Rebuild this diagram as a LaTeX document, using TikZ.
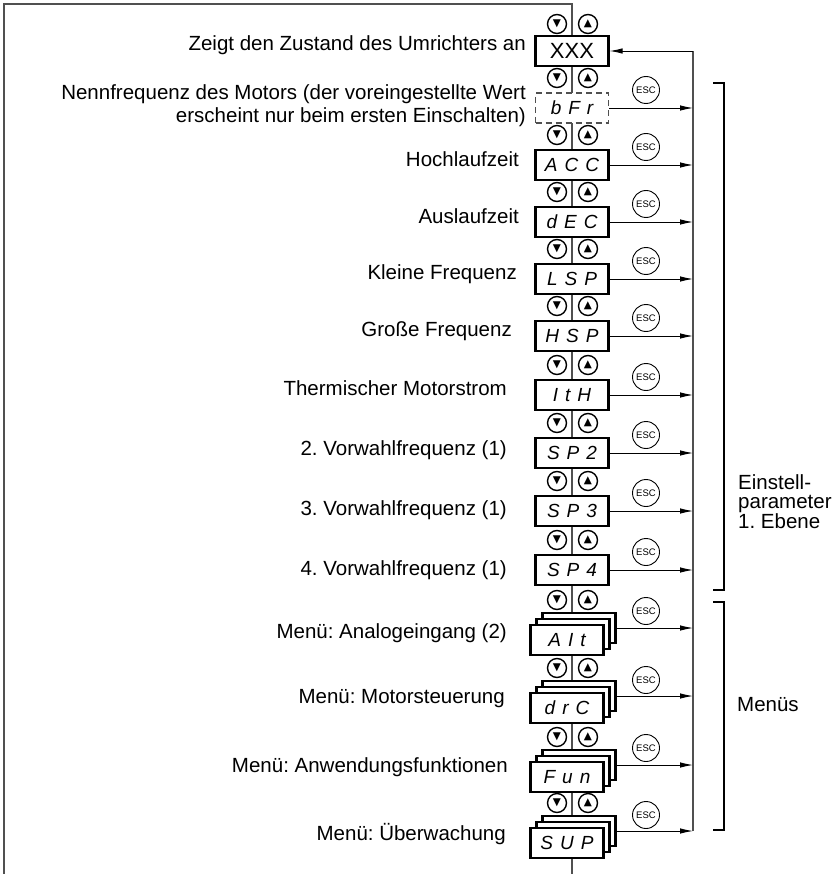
\documentclass[tikz,border=0pt]{standalone}
\usepackage{fontspec}
\setmainfont{Liberation Sans}
\newfontfamily\symfont{DejaVu Sans}
\usetikzlibrary{arrows.meta, shadows, backgrounds}
\definecolor{lineGray}{HTML}{505050}
\newcommand{\dsp}{\hspace{7pt}}
\frenchspacing

\begin{document}
\begin{tikzpicture}[
    x=1pt, y=-1pt,
    >={Latex[length=13pt,width=5.5pt]},
    disp/.style={draw, fill=white, line width=2.2pt, minimum width=73pt,
                 minimum height=30pt, inner sep=0pt,
                 font=\fontsize{19}{19}\selectfont\itshape},
    dispdash/.style={disp, draw=lineGray, line width=1.2pt,
                     dash pattern=on 6pt off 4pt},
    menu/.style={disp,
                 general shadow={shadow xshift=12pt, shadow yshift=12pt,
                                 draw, line width=2.2pt, fill=white},
                 general shadow={shadow xshift=6pt, shadow yshift=6pt,
                                 draw, line width=2.2pt, fill=white}},
    key/.style={circle, draw, line width=1.4pt, minimum size=19pt,
                inner sep=0pt, font=\symfont\fontsize{10.5}{10.5}\selectfont},
    esc/.style={circle, draw, line width=0.9pt, minimum size=27pt,
                inner sep=0pt, font=\fontsize{9.5}{9.5}\selectfont},
    lbl/.style={anchor=east, inner sep=0pt, font=\fontsize{20.5}{23}\selectfont},
    side/.style={anchor=west, align=left, inner sep=0pt,
                 font=\fontsize{20.5}{19}\selectfont},
    link/.style={draw=lineGray, line width=1.3pt},
    flow/.style={->, line width=0.9pt},
  ]
    \useasboundingbox (0,0) rectangle (835,874);

    % Schleife
    \coordinate (tl) at (4,4);
    \coordinate (bl) at (4,874);
    \coordinate (bc) at (572,874);

    % Anzeige
    \node[key] (xxx-dn) at (557,24) {▼};
    \node[key] (xxx-up) at (588,24) {▲};
    \node[disp, font=\fontsize{22}{22}\selectfont] (xxx) at (572,51) {XXX};
    \node[lbl] (xxx-l) at (526,45) {Zeigt den Zustand des Umrichters an};
    \coordinate (xxx-r) at (693,51);

    % Einstellparameter
    \node[key] (bfr-dn) at (557,78) {▼};
    \node[key] (bfr-up) at (588,78) {▲};
    \node[esc] (bfr-esc) at (646,90) {ESC};
    \node[dispdash] (bfr) at (572,108) {b\dsp F\dsp r};
    \node[lbl, align=right] (bfr-l) at (526,106)
      {Nennfrequenz des Motors (der voreingestellte Wert\\
       erscheint nur beim ersten Einschalten)};
    \coordinate (bfr-r) at (693,108);

    \node[key] (acc-dn) at (557,135) {▼};
    \node[key] (acc-up) at (588,135) {▲};
    \node[esc] (acc-esc) at (646,147) {ESC};
    \node[disp] (acc) at (572,165) {A\dsp C\dsp C};
    \node[lbl] (acc-l) at (519,159) {Hochlaufzeit};
    \coordinate (acc-r) at (693,165);

    \node[key] (dec-dn) at (557,192) {▼};
    \node[key] (dec-up) at (588,192) {▲};
    \node[esc] (dec-esc) at (646,204) {ESC};
    \node[disp] (dec) at (572,222) {d\dsp E\dsp C};
    \node[lbl] (dec-l) at (519,216) {Auslaufzeit};
    \coordinate (dec-r) at (693,222);

    \node[key] (lsp-dn) at (557,249) {▼};
    \node[key] (lsp-up) at (588,249) {▲};
    \node[esc] (lsp-esc) at (646,261) {ESC};
    \node[disp] (lsp) at (572,279) {L\dsp S\dsp P};
    \node[lbl] (lsp-l) at (517,274) {Kleine Frequenz};
    \coordinate (lsp-r) at (693,279);

    \node[key] (hsp-dn) at (557,306) {▼};
    \node[key] (hsp-up) at (588,306) {▲};
    \node[esc] (hsp-esc) at (646,318) {ESC};
    \node[disp] (hsp) at (572,336) {H\dsp S\dsp P};
    \node[lbl] (hsp-l) at (512,331) {Große Frequenz};
    \coordinate (hsp-r) at (693,336);

    \node[key] (ith-dn) at (557,365) {▼};
    \node[key] (ith-up) at (588,365) {▲};
    \node[esc] (ith-esc) at (646,377) {ESC};
    \node[disp] (ith) at (572,395) {I\dsp t\dsp H};
    \node[lbl] (ith-l) at (507,388) {Thermischer Motorstrom};
    \coordinate (ith-r) at (693,395);

    \node[key] (sp2-dn) at (557,423) {▼};
    \node[key] (sp2-up) at (588,423) {▲};
    \node[esc] (sp2-esc) at (646,435) {ESC};
    \node[disp] (sp2) at (572,453) {S\dsp P\dsp 2};
    \node[lbl] (sp2-l) at (507,450) {2. Vorwahlfrequenz (1)};
    \coordinate (sp2-r) at (693,453);

    \node[key] (sp3-dn) at (557,481) {▼};
    \node[key] (sp3-up) at (588,481) {▲};
    \node[esc] (sp3-esc) at (646,493) {ESC};
    \node[disp] (sp3) at (572,511) {S\dsp P\dsp 3};
    \node[lbl] (sp3-l) at (507,510) {3. Vorwahlfrequenz (1)};
    \coordinate (sp3-r) at (693,511);

    \node[key] (sp4-dn) at (557,540) {▼};
    \node[key] (sp4-up) at (588,540) {▲};
    \node[esc] (sp4-esc) at (646,552) {ESC};
    \node[disp] (sp4) at (572,570) {S\dsp P\dsp 4};
    \node[lbl] (sp4-l) at (507,570) {4. Vorwahlfrequenz (1)};
    \coordinate (sp4-r) at (693,570);

    % Menüs
    \node[key] (ait-dn) at (557,600) {▼};
    \node[key] (ait-up) at (588,600) {▲};
    \node[esc] (ait-esc) at (646,611) {ESC};
    \node[menu] (ait) at (567,640) {A\dsp I\dsp t};
    \node[lbl] (ait-l) at (507,633) {Menü: Analogeingang (2)};
    \coordinate (ait-r) at (693,628);

    \node[key] (drc-dn) at (557,668) {▼};
    \node[key] (drc-up) at (588,668) {▲};
    \node[esc] (drc-esc) at (646,680) {ESC};
    \node[menu] (drc) at (567,708) {d\dsp r\dsp C};
    \node[lbl] (drc-l) at (505,699) {Menü: Motorsteuerung};
    \coordinate (drc-r) at (693,696);

    \node[key] (fun-dn) at (557,737) {▼};
    \node[key] (fun-up) at (588,737) {▲};
    \node[esc] (fun-esc) at (646,748) {ESC};
    \node[menu] (fun) at (567,777) {F\dsp u\dsp n};
    \node[lbl] (fun-l) at (508,767) {Menü: Anwendungsfunktionen};
    \coordinate (fun-r) at (693,765);

    \node[key] (sup-dn) at (557,803) {▼};
    \node[key] (sup-up) at (588,803) {▲};
    \node[esc] (sup-esc) at (646,815) {ESC};
    \node[menu] (sup) at (567,843) {S\dsp U\dsp P};
    \node[lbl] (sup-l) at (506,834) {Menü: Überwachung};
    \coordinate (sup-r) at (693,831);

    % Verbindungen
    \begin{scope}[on background layer]
      \draw[link] (xxx) -- (bc);
    \end{scope}
    \draw[link] (xxx) |- (tl) -- (bl);
    \draw[link] (sup-r) -- (xxx-r);
    \draw[flow] (xxx-r) -- (xxx);
    \draw[flow] (bfr) -- (bfr-r);
    \draw[flow] (acc) -- (acc-r);
    \draw[flow] (dec) -- (dec-r);
    \draw[flow] (lsp) -- (lsp-r);
    \draw[flow] (hsp) -- (hsp-r);
    \draw[flow] (ith) -- (ith-r);
    \draw[flow] (sp2) -- (sp2-r);
    \draw[flow] (sp3) -- (sp3-r);
    \draw[flow] (sp4) -- (sp4-r);
    \draw[flow] ([shift={(12,-12)}]ait.east) -- (ait-r);
    \draw[flow] ([shift={(12,-12)}]drc.east) -- (drc-r);
    \draw[flow] ([shift={(12,-12)}]fun.east) -- (fun-r);
    \draw[flow] ([shift={(12,-12)}]sup.east) -- (sup-r);

    % Klammern
    \draw[line width=1.1pt] (713,83) -- (724,83) -- (724,590) -- (713,590);
    \draw[line width=1.1pt] (713,602) -- (724,602) -- (724,830) -- (713,830);
    \node[side] (par-l) at (738,502) {Einstell-\\parameter\\1. Ebene};
    \node[side] (men-l) at (737,705) {Menüs};
  \end{tikzpicture}
\end{document}
